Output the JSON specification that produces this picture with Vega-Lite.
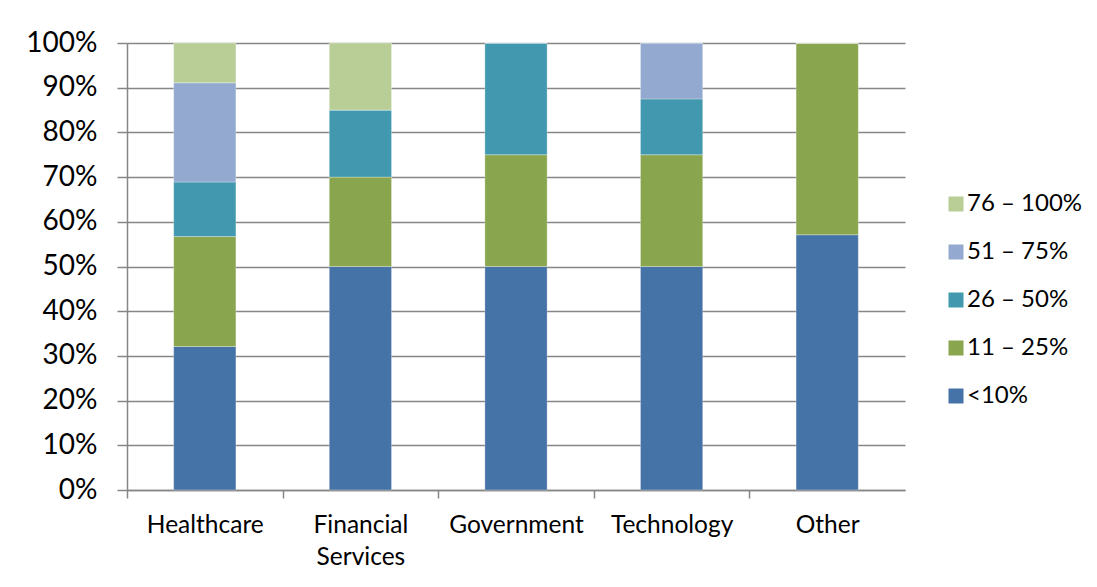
{
  "$schema": "https://vega.github.io/schema/vega-lite/v6.json",
  "autosize": {"type": "none"},
  "padding": {"left": 127, "top": 43, "right": 192, "bottom": 97},
  "width": 778,
  "height": 447,
  "background": "white",
  "data": {
    "values": [
      {"sector": "Healthcare", "range": "<10%", "k": 1, "pct": 32.1},
      {"sector": "Healthcare", "range": "11 – 25%", "k": 2, "pct": 24.6},
      {"sector": "Healthcare", "range": "26 – 50%", "k": 3, "pct": 12.2},
      {"sector": "Healthcare", "range": "51 – 75%", "k": 4, "pct": 22.2},
      {"sector": "Healthcare", "range": "76 – 100%", "k": 5, "pct": 8.9},
      {"sector": "Financial Services", "range": "<10%", "k": 1, "pct": 50},
      {"sector": "Financial Services", "range": "11 – 25%", "k": 2, "pct": 20},
      {"sector": "Financial Services", "range": "26 – 50%", "k": 3, "pct": 15},
      {"sector": "Financial Services", "range": "51 – 75%", "k": 4, "pct": 0},
      {"sector": "Financial Services", "range": "76 – 100%", "k": 5, "pct": 15},
      {"sector": "Government", "range": "<10%", "k": 1, "pct": 50},
      {"sector": "Government", "range": "11 – 25%", "k": 2, "pct": 25},
      {"sector": "Government", "range": "26 – 50%", "k": 3, "pct": 25},
      {"sector": "Government", "range": "51 – 75%", "k": 4, "pct": 0},
      {"sector": "Government", "range": "76 – 100%", "k": 5, "pct": 0},
      {"sector": "Technology", "range": "<10%", "k": 1, "pct": 50},
      {"sector": "Technology", "range": "11 – 25%", "k": 2, "pct": 25},
      {"sector": "Technology", "range": "26 – 50%", "k": 3, "pct": 12.5},
      {"sector": "Technology", "range": "51 – 75%", "k": 4, "pct": 12.5},
      {"sector": "Technology", "range": "76 – 100%", "k": 5, "pct": 0},
      {"sector": "Other", "range": "<10%", "k": 1, "pct": 57.1},
      {"sector": "Other", "range": "11 – 25%", "k": 2, "pct": 42.9},
      {"sector": "Other", "range": "26 – 50%", "k": 3, "pct": 0},
      {"sector": "Other", "range": "51 – 75%", "k": 4, "pct": 0},
      {"sector": "Other", "range": "76 – 100%", "k": 5, "pct": 0}
    ]
  },
  "mark": {"type": "bar", "stroke": "white", "strokeWidth": 0.5, "strokeOpacity": 0.6},
  "encoding": {
    "x": {
      "field": "sector",
      "type": "nominal",
      "sort": ["Healthcare", "Financial Services", "Government", "Technology", "Other"],
      "scale": {"paddingInner": 0.6, "paddingOuter": 0.3},
      "axis": {
        "title": null,
        "labelAngle": 0,
        "labelFont": "Lato",
        "labelFontSize": 24.5,
        "labelColor": "#000000",
        "labelPadding": 15,
        "labelLineHeight": 32,
        "labelOverlap": false,
        "labelExpr": "datum.value == 'Financial Services' ? ['Financial', 'Services'] : datum.value",
        "tickOffset": -77.8,
        "labelOffset": 77.8,
        "tickSize": 8,
        "tickColor": "#868686",
        "tickWidth": 1.5,
        "domainColor": "#868686",
        "domainWidth": 1.5,
        "grid": false
      }
    },
    "y": {
      "field": "pct",
      "type": "quantitative",
      "stack": "normalize",
      "scale": {"domain": [0, 1], "nice": false},
      "axis": {
        "title": null,
        "format": ".0%",
        "values": [0, 0.1, 0.2, 0.3, 0.4, 0.5, 0.6, 0.7, 0.8, 0.9, 1],
        "labelOverlap": false,
        "labelFont": "Lato",
        "labelFontSize": 28,
        "labelColor": "#000000",
        "labelPadding": 20,
        "tickSize": 10,
        "tickColor": "#868686",
        "tickWidth": 1.5,
        "domainColor": "#868686",
        "domainWidth": 1.5,
        "grid": true,
        "gridColor": "#868686",
        "gridWidth": 1.5
      }
    },
    "color": {
      "field": "range",
      "type": "nominal",
      "scale": {
        "domain": ["76 – 100%", "51 – 75%", "26 – 50%", "11 – 25%", "<10%"],
        "range": ["#B9CD96", "#93A9CF", "#4198AF", "#89A54E", "#4572A7"]
      },
      "legend": {
        "title": null,
        "orient": "none",
        "legendX": 817,
        "legendY": 149,
        "symbolType": "square",
        "symbolSize": 225,
        "symbolStrokeWidth": 0,
        "labelFont": "Lato",
        "labelFontSize": 24,
        "labelColor": "#000000",
        "labelOffset": -1,
        "rowPadding": 24
      }
    },
    "order": {"field": "k", "type": "quantitative", "sort": "ascending"}
  },
  "config": {
    "view": {"stroke": null}
  }
}
